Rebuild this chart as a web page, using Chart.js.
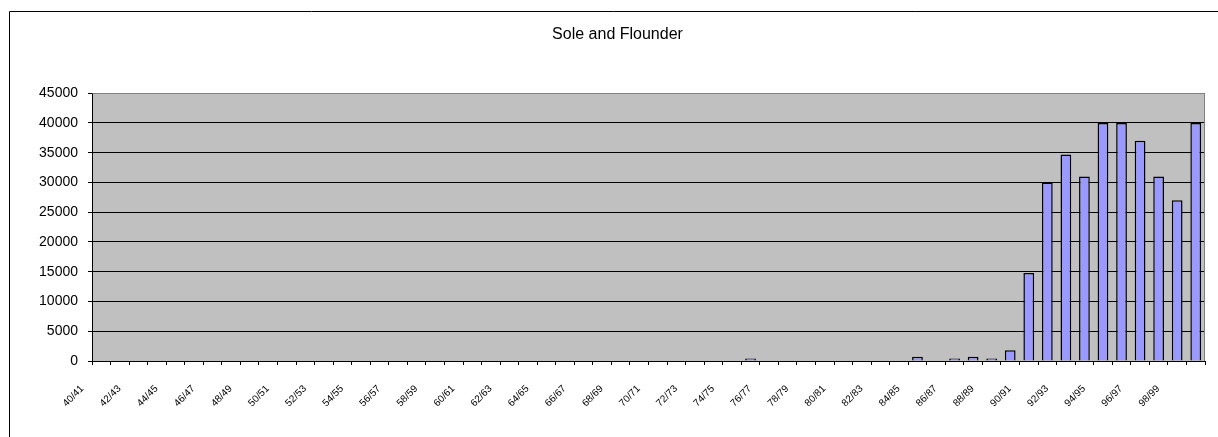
<!DOCTYPE html>
<html>
<head>
<meta charset="utf-8">
<script src="https://cdn.jsdelivr.net/npm/chart.js@4/dist/chart.umd.min.js"></script>
<style>
  html, body { margin: 0; padding: 0; background: #fff; }
  #wrap { width: 1218px; height: 437px; position: relative; }
</style>
</head>
<body>
<div id="wrap"><canvas id="c" width="1218" height="437"></canvas></div>
<script>
// Seasons 1940/41 .. 1999/00
const seasons = [
  "40/41","41/42","42/43","43/44","44/45","45/46","46/47","47/48","48/49","49/50",
  "50/51","51/52","52/53","53/54","54/55","55/56","56/57","57/58","58/59","59/60",
  "60/61","61/62","62/63","63/64","64/65","65/66","66/67","67/68","68/69","69/70",
  "70/71","71/72","72/73","73/74","74/75","75/76","76/77","77/78","78/79","79/80",
  "80/81","81/82","82/83","83/84","84/85","85/86","86/87","87/88","88/89","89/90",
  "90/91","91/92","92/93","93/94","94/95","95/96","96/97","97/98","98/99","99/00"
];
const catch_ = [
  null,null,null,null,null,null,null,null,null,null,
  null,null,null,null,null,null,null,null,null,null,
  null,null,null,null,null,null,null,null,null,null,
  null,null,null,null,null,400,null,null,null,null,
  null,null,null,null,700,null,400,700,400,1800,
  14800,30000,34700,31000,40000,40000,37000,31000,27000,40000
];
const yTicks = [0,5000,10000,15000,20000,25000,30000,35000,40000,45000];
const chartTitle = "Sole and Flounder";

const FONT = "Arial, 'Liberation Sans', sans-serif";

const decor = {
  id: 'decor',
  beforeDraw(chart) {
    const {ctx, chartArea: a} = chart;
    ctx.save();
    ctx.fillStyle = '#fff';
    ctx.fillRect(0, 0, chart.width, chart.height);
    // outer frame (left + top)
    ctx.strokeStyle = '#000';
    ctx.lineWidth = 1;
    ctx.beginPath();
    ctx.moveTo(9.5, chart.height);
    ctx.lineTo(9.5, 11.5);
    ctx.lineTo(chart.width, 11.5);
    ctx.stroke();
    // plot area
    ctx.fillStyle = '#C0C0C0';
    ctx.fillRect(a.left, a.top, a.right - a.left, a.bottom - a.top);
    ctx.restore();
  },
  beforeDatasetsDraw(chart) {
    const {ctx, chartArea: a} = chart;
    ctx.save();
    ctx.strokeStyle = '#808080';
    ctx.lineWidth = 1;
    ctx.beginPath();
    ctx.moveTo(Math.round(a.left) + 0.5, Math.round(a.top) + 0.5);
    ctx.lineTo(Math.round(a.right) - 0.5, Math.round(a.top) + 0.5);
    ctx.lineTo(Math.round(a.right) - 0.5, Math.round(a.bottom));
    ctx.stroke();
    ctx.restore();
  }
};

new Chart(document.getElementById('c'), {
  type: 'bar',
  data: {
    labels: seasons,
    datasets: [{
      data: catch_,
      backgroundColor: '#9999FF',
      borderColor: '#000000',
      borderWidth: 1.5,
      borderSkipped: 'bottom',
      categoryPercentage: 1.0,
      barPercentage: 0.58
    }]
  },
  options: {
    responsive: false,
    animation: false,
    devicePixelRatio: 1,
    layout: { padding: { left: 30, right: 13, top: 0, bottom: 0 } },
    plugins: {
      legend: { display: false },
      tooltip: { enabled: false },
      title: {
        display: true,
        text: chartTitle,
        color: '#000',
        font: { family: FONT, size: 16, weight: 'normal' },
        padding: { top: 25, bottom: 49 }
      }
    },
    scales: {
      x: {
        offset: true,
        grid: {
          offset: true,
          drawOnChartArea: false,
          drawTicks: true,
          tickLength: 4,
          color: '#000'
        },
        border: { display: true, color: '#000', width: 1 },
        ticks: {
          autoSkip: false,
          maxRotation: 45,
          minRotation: 45,
          color: '#000',
          font: { family: FONT, size: 10 },
          padding: 18,
          labelOffset: -19,
          callback: function(v, i) { return i % 2 === 0 ? seasons[i] : ''; }
        },
        afterFit(s) { s.height = 76; s.paddingLeft = 0; s.paddingRight = 0; }
      },
      y: {
        min: 0,
        max: 45000,
        afterBuildTicks(s) { s.ticks = yTicks.map(v => ({value: v})); },
        grid: {
          color: (c) => (c.tick && c.tick.value === 45000) ? '#808080' : '#000',
          lineWidth: 1,
          drawTicks: true,
          tickLength: 4,
          tickColor: '#000'
        },
        border: { display: true, color: '#000', width: 1 },
        ticks: {
          color: '#000',
          font: { family: FONT, size: 14 },
          padding: 10,
          callback: (v) => String(v)
        },
        afterFit(s) { s.width = 62; }
      }
    }
  },
  plugins: [decor]
});
</script>
</body>
</html>
